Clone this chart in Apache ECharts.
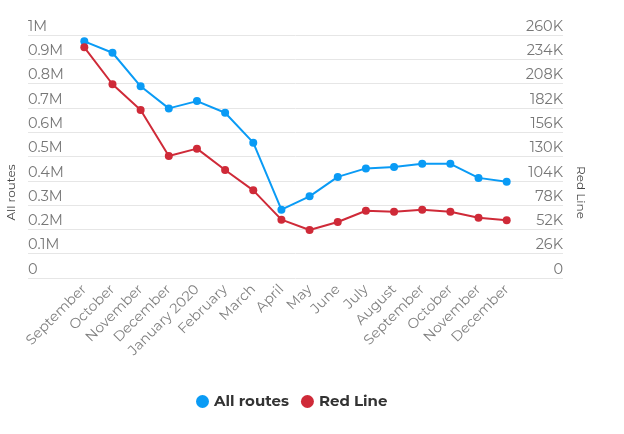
<!DOCTYPE html>
<html>
<head>
<meta charset="utf-8">
<script src="https://cdn.jsdelivr.net/npm/echarts@6/dist/echarts.min.js"></script>
<style>
  html, body { margin: 0; padding: 0; background: #fff; }
  #chart { width: 624px; height: 434px; }
</style>
</head>
<body>
<div id="chart"></div>
<script>
// months from September 2019 to December 2020
const months = ['September', 'October', 'November', 'December', 'January 2020', 'February',
  'March', 'April', 'May', 'June', 'July', 'August', 'September', 'October', 'November', 'December']
// ridership, all routes (left axis)
const allRoutes = [974000, 927000, 789000, 698000, 728000, 680000, 557000, 281000, 336000,
  416000, 451000, 457000, 470000, 470000, 412000, 396000]
// ridership, Red Line (right axis)
const redLine = [246800, 207300, 179800, 130500, 138400, 115600, 93800, 62400, 51400,
  59900, 72000, 70900, 73100, 70900, 64500, 61700]

const blue = '#0a9bf5'
const red = '#cf2a38'
const font = 'Montserrat, "Open Sans", "Noto Sans", sans-serif'

const asPoints = arr => arr.map((v, i) => [i, v])

const chart = echarts.init(document.getElementById('chart'))

chart.setOption({
  animation: false,
  grid: { left: 28, right: 61, top: 35, bottom: 156, containLabel: false, outerBoundsMode: 'none' },
  legend: {
    bottom: 20,
    left: 191,
    icon: 'circle',
    itemWidth: 13,
    itemHeight: 13,
    itemGap: 12,
    textStyle: { fontFamily: font, fontSize: 15, fontWeight: 'bold', color: '#333' },
    data: ['All routes', 'Red Line']
  },
  xAxis: {
    type: 'value',
    min: -2,
    max: 17,
    interval: 1,
    axisLine: { show: false },
    axisTick: { show: false },
    splitLine: { show: false },
    axisLabel: {
      rotate: 45,
      margin: 9,
      color: '#808080',
      fontFamily: font,
      fontSize: 14,
      showMinLabel: true,
      showMaxLabel: true,
      formatter: v => months[v] || ''
    }
  },
  yAxis: [
    {
      type: 'value',
      name: 'All routes',
      nameLocation: 'middle',
      nameGap: 10,
      nameTextStyle: { color: '#444', fontFamily: font, fontSize: 12, padding: [0, 72, 0, 0] },
      min: 0,
      max: 1000000,
      interval: 100000,
      axisLine: { show: false },
      axisTick: { show: false },
      splitLine: { lineStyle: { color: '#e6e6e6' } },
      axisLabel: {
        inside: true,
        margin: 0,
        verticalAlign: 'bottom',
        padding: [0, 0, 1, 0],
        color: '#777',
        fontFamily: font,
        fontSize: 14.5,
        formatter: v => v === 0 ? '0' : (v / 1e6) + 'M'
      }
    },
    {
      type: 'value',
      name: 'Red Line',
      nameLocation: 'middle',
      nameRotate: -90,
      nameGap: 12,
      nameTextStyle: { color: '#444', fontFamily: font, fontSize: 12, padding: [0, 0, 0, 72] },
      min: 0,
      max: 260000,
      interval: 26000,
      axisLine: { show: false },
      axisTick: { show: false },
      splitLine: { show: false },
      axisLabel: {
        inside: true,
        margin: 0,
        verticalAlign: 'bottom',
        padding: [0, 0, 1, 0],
        color: '#777',
        fontFamily: font,
        fontSize: 14.5,
        formatter: v => v === 0 ? '0' : (v / 1000) + 'K'
      }
    }
  ],
  series: [
    {
      name: 'All routes',
      type: 'line',
      yAxisIndex: 0,
      data: asPoints(allRoutes),
      symbol: 'circle',
      symbolSize: 8,
      itemStyle: { color: blue },
      lineStyle: { color: blue, width: 2 }
    },
    {
      name: 'Red Line',
      type: 'line',
      yAxisIndex: 1,
      data: asPoints(redLine),
      symbol: 'circle',
      symbolSize: 8,
      itemStyle: { color: red },
      lineStyle: { color: red, width: 2 }
    }
  ]
})
</script>
</body>
</html>
